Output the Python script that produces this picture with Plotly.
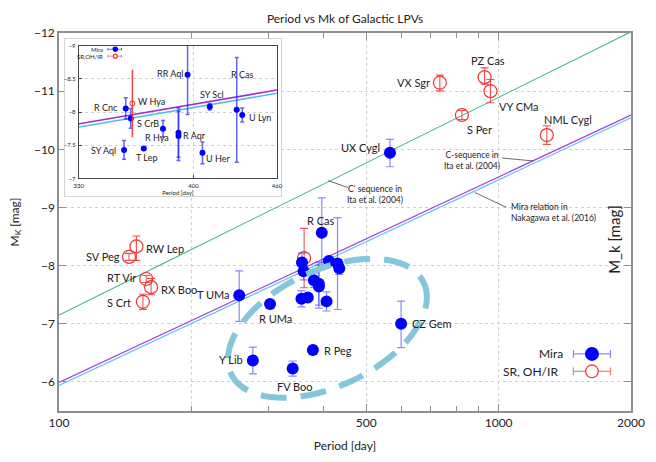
import numpy as np
import plotly.graph_objects as go

# ---------------- data ----------------
mira_names = ["UX Cygl", "T UMa", "R UMa", "CZ Gem", "R Peg", "Y Lib", "FV Boo",
              "R Cnc", "S CrB", "SY Aql", "T Lep", "R Hya", "R Aqr", "R Aqr",
              "RR Aql", "U Her", "SY Scl", "R Cas", "U Lyn"]
mira_period = [566, 257, 302, 600, 378, 276, 340,
               357, 360, 356, 368, 380, 390, 390,
               396, 406, 411, 430, 434]
mira_mk = [-9.94, -7.49, -7.34, -7.00, -6.55, -6.37, -6.23,
           -8.055, -7.905, -7.43, -7.45, -7.75, -7.69, -7.64,
           -8.565, -7.385, -8.08, -8.035, -7.955]
mira_err_bright = [0.23, 0.42, 0.0, 0.39, 0.07, 0.23, 0.13,
                   0.16, 0.15, 0.14, 0.02, 0.125, 0.37, 0.37,
                   0.60, 0.165, 0.05, 0.79, 0.105]
mira_err_faint = [0.24, 0.45, 0.0, 0.41, 0.07, 0.23, 0.13,
                  0.16, 0.15, 0.14, 0.02, 0.125, 0.37, 0.37,
                  0.60, 0.165, 0.05, 0.79, 0.105]

sr_names = ["VX Sgr", "PZ Cas", "VY CMa", "S Per", "NML Cygl", "RW Lep",
            "SV Peg", "RT Vir", "RX Boo", "S Crt", "W Hya"]
sr_period = [735, 929, 958, 825, 1287, 150, 144.3, 157.9, 162, 155.2, 361]
sr_mk = [-11.145, -11.24, -11.0, -10.59, -10.245, -8.33,
         -8.15, -7.77, -7.63, -7.378, -8.13]
sr_err_bright = [0.13, 0.16, 0.20, 0.08, 0.16, 0.18, 0.06, 0.06, 0.15, 0.13, 0.51]
sr_err_faint = [0.14, 0.12, 0.20, 0.08, 0.16, 0.24, 0.06, 0.06, 0.13, 0.13, 0.51]

line_period = [100, 2000]
cprime_mk = [-7.15, -12.02]      # C' sequence, Ita et al. (2004)
cseq_mk = [-5.99, -10.59]        # C sequence, Ita et al. (2004)
mira_rel_mk = [-5.94, -10.54]    # Mira relation, Nakagawa et al. (2016)

x_tickvals = [100, 500, 1000, 2000]
x_ticktext = ["100", "500", "1000", "2000"]
x_minor = [200, 300, 400, 600, 700, 800, 900]
x_extra_grid = [200]
y_tickvals = [-12, -11, -10, -9, -8, -7, -6]
inset_x_tickvals = [330, 400, 460]
inset_y_tickvals = [-9, -8.5, -8, -7.5, -7]
inset_range = (330, 460)

# ---------------- styling / layout helpers ----------------
W, H = 656, 462
L, R, T, B = 59, 11, 33, 45
PW, PH = W - L - R, H - T - B
FONT = "Lato"
BLUE = "#0000ff"
RED = "#ee3333"
FRAME = "#8f8f8f"
GRID = "#cfcfcf"


def pp(x, y):
    return (x - L) / PW, (H - B - y) / PH


fig = go.Figure()

# ---- main plot: reference lines
fig.add_trace(go.Scatter(x=line_period, y=cprime_mk, mode="lines",
                         line=dict(color="#3db38e", width=1.1), showlegend=False,
                         hoverinfo="skip"))
fig.add_trace(go.Scatter(x=line_period, y=mira_rel_mk, mode="lines",
                         line=dict(color="#6cc3ea", width=1.2), showlegend=False,
                         hoverinfo="skip"))
fig.add_trace(go.Scatter(x=line_period, y=cseq_mk, mode="lines",
                         line=dict(color="#a23ce0", width=1.2), showlegend=False,
                         hoverinfo="skip"))

# ---- main plot: data
fig.add_trace(go.Scatter(
    x=sr_period, y=sr_mk, mode="markers", name="SR, OH/IR",
    marker=dict(symbol="circle-open", size=13, color=RED, line=dict(width=1.2, color=RED)),
    error_y=dict(type="data", array=sr_err_faint, arrayminus=sr_err_bright,
                 color="rgba(238,51,51,0.85)", thickness=1.1, width=4),
    showlegend=False))
fig.add_trace(go.Scatter(
    x=mira_period, y=mira_mk, mode="markers", name="Mira",
    marker=dict(symbol="circle", size=12, color=BLUE),
    error_y=dict(type="data", array=mira_err_faint, arrayminus=mira_err_bright,
                 color="rgba(40,40,255,0.55)", thickness=1.2, width=4),
    showlegend=False))

# ---- outer white box for the inset (x2/y2), invisible placeholder trace
fig.add_trace(go.Scatter(x=[0.5], y=[0.5], xaxis="x2", yaxis="y2", mode="markers",
                         marker=dict(size=1, opacity=0), showlegend=False, hoverinfo="skip"))

# ---- inset (x3/y3)
ins_m = [i for i, p in enumerate(mira_period) if inset_range[0] <= p <= inset_range[1]]
ins_s = [i for i, p in enumerate(sr_period) if inset_range[0] <= p <= inset_range[1]]
fig.add_trace(go.Scatter(x=line_period, y=mira_rel_mk, mode="lines", xaxis="x3", yaxis="y3",
                         line=dict(color="#55bde0", width=1.6), showlegend=False, hoverinfo="skip"))
fig.add_trace(go.Scatter(x=line_period, y=cseq_mk, mode="lines", xaxis="x3", yaxis="y3",
                         line=dict(color="#9b2fdc", width=1.6), showlegend=False, hoverinfo="skip"))
fig.add_trace(go.Scatter(
    x=[mira_period[i] for i in ins_m], y=[mira_mk[i] for i in ins_m],
    xaxis="x3", yaxis="y3", mode="markers",
    marker=dict(symbol="circle", size=6, color=BLUE),
    error_y=dict(type="data", array=[mira_err_faint[i] for i in ins_m],
                 arrayminus=[mira_err_bright[i] for i in ins_m],
                 color="rgba(30,30,255,0.7)", thickness=1.5, width=2),
    showlegend=False))
fig.add_trace(go.Scatter(
    x=[sr_period[i] for i in ins_s], y=[sr_mk[i] for i in ins_s],
    xaxis="x3", yaxis="y3", mode="markers",
    marker=dict(symbol="circle-open", size=5, color=RED, line=dict(width=1, color=RED)),
    error_y=dict(type="data", array=[sr_err_faint[i] for i in ins_s],
                 arrayminus=[sr_err_bright[i] for i in ins_s],
                 color="rgba(238,51,51,0.9)", thickness=1.5, width=0),
    showlegend=False))

annotations = []
shapes = []

# extra dotted grid line(s) on the main x axis
for g in x_extra_grid:
    shapes.append(dict(type="line", xref="x", yref="paper", x0=g, x1=g, y0=0, y1=1,
                       line=dict(color=GRID, width=1, dash="dot"), layer="below"))

# ---- labels in main plot (anchor, xshift, yshift)
main_label_pos = {
    "VX Sgr": ("right", -8, 0), "PZ Cas": ("center", 3, 17), "VY CMa": ("left", 7, -15),
    "S Per": ("left", 3, -14), "NML Cygl": ("left", -5, 16), "UX Cygl": ("right", -8, 5),
    "RW Lep": ("left", 8, -2), "SV Peg": ("right", -7, 0), "RT Vir": ("right", -8, 1),
    "RX Boo": ("left", 8, -2), "S Crt": ("right", -10, -1), "T UMa": ("right", -7, 1),
    "R UMa": ("center", 5, -14), "R Cas": ("center", -17, 43), "CZ Gem": ("left", 9, 0),
    "R Peg": ("left", 9, -1), "Y Lib": ("right", -8, 1), "FV Boo": ("center", 2, -18),
}
inset_label_pos = {
    "R Cnc": ("right", -6, 1), "W Hya": ("left", 4, 2), "S CrB": ("left", 4, -5),
    "R Hya": ("center", -6, -9), "R Aqr": ("left", 3, 0), "SY Aql": ("right", -6, -1),
    "T Lep": ("center", 3, -9), "RR Aql": ("right", -3, 1), "R Cas": ("center", 5, 35),
    "SY Scl": ("center", 2, 12), "U Lyn": ("left", 5, -2), "U Her": ("left", 2, -6),
}

points = {}
for n, p, m in zip(mira_names, mira_period, mira_mk):
    points[n] = (p, m)
for n, p, m in zip(sr_names, sr_period, sr_mk):
    points[n] = (p, m)

for n, (anc, xs, ys) in main_label_pos.items():
    p, m = points[n]
    annotations.append(dict(x=np.log10(p), y=m, xref="x", yref="y", text=n, showarrow=False,
                            xanchor=anc, yanchor="middle", xshift=xs, yshift=ys,
                            font=dict(family=FONT, size=11, color="#222")))
for n, (anc, xs, ys) in inset_label_pos.items():
    p, m = points[n]
    annotations.append(dict(x=np.log10(p), y=m, xref="x3", yref="y3", text=n, showarrow=False,
                            xanchor=anc, yanchor="middle", xshift=xs, yshift=ys,
                            font=dict(family=FONT, size=9, color="#222")))


# ---- relation annotations with pointer lines
def txt(x, y, s, anchor="center", size=8.5):
    X, Y = pp(x, y)
    annotations.append(dict(x=X, y=Y, xref="paper", yref="paper", text=s, showarrow=False,
                            xanchor=anchor, yanchor="middle",
                            align=anchor if anchor != "center" else "center",
                            font=dict(family=FONT, size=size, color="#222")))


def seg(x0, y0, x1, y1, color="#444", width=0.8, layer="above"):
    X0, Y0 = pp(x0, y0)
    X1, Y1 = pp(x1, y1)
    shapes.append(dict(type="line", xref="paper", yref="paper", x0=X0, y0=Y0, x1=X1, y1=Y1,
                       line=dict(color=color, width=width), layer=layer))


txt(383, 197, "C' sequence in<br>Ita et al. (2004)")
seg(335, 183, 355, 190)
txt(482, 162.5, "C-sequence in<br>Ita et al. (2004)")
seg(513, 160, 545, 163)
txt(520, 215.5, "Mira relation in<br>Nakagawa et al. (2016)", anchor="left")
seg(485, 195, 517, 210)

# right-hand axis title
X, Y = pp(639, 243)
annotations.append(dict(x=X, y=Y, xref="paper", yref="paper", text="M_k [mag]", textangle=-90,
                        showarrow=False, font=dict(family=FONT, size=15, color="#222")))

# ---- dashed ellipse
t = np.linspace(0, 2 * np.pi, 97)
cx, cy, a, b, th = 334, 333, 109, 59, np.radians(25)
ex = cx + a * np.cos(t) * np.cos(th) + b * np.sin(t) * np.sin(th)
ey = cy - a * np.cos(t) * np.sin(th) + b * np.sin(t) * np.cos(th)
path = ""
for i, (u, v) in enumerate(zip(ex, ey)):
    X, Y = pp(u, v)
    path += ("M" if i == 0 else "L") + f"{X:.5f},{Y:.5f}"
shapes.append(dict(type="path", path=path, xref="paper", yref="paper",
                   line=dict(color="#84c6da", width=6, dash="26px,14px"), layer="above"))


# ---- custom legends
def legend_entry(y, label, filled, color, barcolor, xtext, x0=586, x1=624, xm=605, r=6.5,
                 cap=4, size=12, lw=1.2):
    seg(x0, y, x1, y, color=barcolor, width=lw)
    seg(x0, y - cap, x0, y + cap, color=barcolor, width=lw)
    seg(x1, y - cap, x1, y + cap, color=barcolor, width=lw)
    X0, Y0 = pp(xm - r, y + r)
    X1, Y1 = pp(xm + r, y - r)
    shapes.append(dict(type="circle", xref="paper", yref="paper", x0=X0, y0=Y0, x1=X1, y1=Y1,
                       fillcolor=color if filled else "white",
                       line=dict(color=color, width=1.2), layer="above"))
    txt(xtext, y, label, anchor="right", size=size)


legend_entry(359, "Mira", True, BLUE, "rgba(90,90,255,0.7)", 577)
legend_entry(376.7, "SR, OH/IR", False, RED, "rgba(238,80,80,0.7)", 572)
legend_entry(49.5, "Mira", True, BLUE, "rgba(40,40,255,0.8)", 106, x0=109, x1=123, xm=116.7,
             r=2.2, cap=1.5, size=6, lw=0.8)
legend_entry(56.5, "SR,OH/IR", False, RED, "rgba(238,60,60,0.8)", 106, x0=109, x1=123, xm=116.7,
             r=2.0, cap=1.5, size=6, lw=0.8)

bx0, by1 = pp(65, 39)
bx1, by0 = pp(286, 199)
ix0, iy1 = pp(79.3, 46)
ix1, iy0 = pp(282.3, 180.7)

fig.update_layout(
    width=W, height=H,
    margin=dict(l=L, r=R, t=T, b=B),
    paper_bgcolor="white", plot_bgcolor="white",
    font=dict(family=FONT, size=12, color="#222"),
    title=dict(text="Period vs Mk of Galactic LPVs", x=0.5, xref="paper", y=1 - 19 / H,
               yanchor="middle", font=dict(family=FONT, size=12, color="#222")),
    xaxis=dict(type="log", range=[np.log10(100), np.log10(2000)], domain=[0, 1], anchor="y",
               tickvals=x_tickvals, ticktext=x_ticktext, ticks="inside", ticklen=7,
               tickcolor=FRAME, showgrid=True, gridcolor=GRID, griddash="dot",
               showline=True, linecolor=FRAME, linewidth=1.5, mirror="ticks",
               minor=dict(tickvals=x_minor, ticks="inside", ticklen=5, tickcolor=FRAME,
                          showgrid=False),
               zeroline=False, tickfont=dict(size=12),
               title=dict(text="Period [day]", standoff=12, font=dict(size=12))),
    yaxis=dict(range=[-5.5, -12], domain=[0, 1], anchor="x", tickvals=y_tickvals,
               ticks="inside", ticklen=7, tickcolor=FRAME,
               showgrid=True, gridcolor=GRID, griddash="dot",
               showline=True, linecolor=FRAME, linewidth=1.5, mirror="ticks",
               zeroline=False, tickfont=dict(size=12),
               title=dict(text="M<sub>K</sub> [mag]", standoff=12, font=dict(size=12))),
    xaxis2=dict(domain=[bx0, bx1], anchor="y2", range=[0, 1], showticklabels=False,
                showgrid=False, zeroline=False, showline=True, linecolor="#d4d4d4",
                linewidth=1, mirror=True, ticks=""),
    yaxis2=dict(domain=[by0, by1], anchor="x2", range=[0, 1], showticklabels=False,
                showgrid=False, zeroline=False, showline=True, linecolor="#d4d4d4",
                linewidth=1, mirror=True, ticks=""),
    xaxis3=dict(type="log", domain=[ix0, ix1], anchor="y3",
                range=[np.log10(inset_range[0]), np.log10(inset_range[1])],
                tickvals=inset_x_tickvals, ticks="inside", ticklen=3, tickcolor="#444",
                showgrid=True, gridcolor=GRID, griddash="dot",
                showline=True, linecolor="#444", linewidth=1, mirror=True, zeroline=False,
                tickfont=dict(size=6), ticklabelstandoff=1,
                title=dict(text="Period [day]", standoff=2, font=dict(size=6))),
    yaxis3=dict(domain=[iy0, iy1], anchor="x3", range=[-7, -9],
                tickvals=inset_y_tickvals, ticks="inside", ticklen=3, tickcolor="#444",
                showgrid=True, gridcolor=GRID, griddash="dot",
                showline=True, linecolor="#444", linewidth=1, mirror=True, zeroline=False,
                tickfont=dict(size=6), ticklabelstandoff=1),
    annotations=annotations,
    shapes=shapes,
    showlegend=False,
)

fig.write_html("out.html")
